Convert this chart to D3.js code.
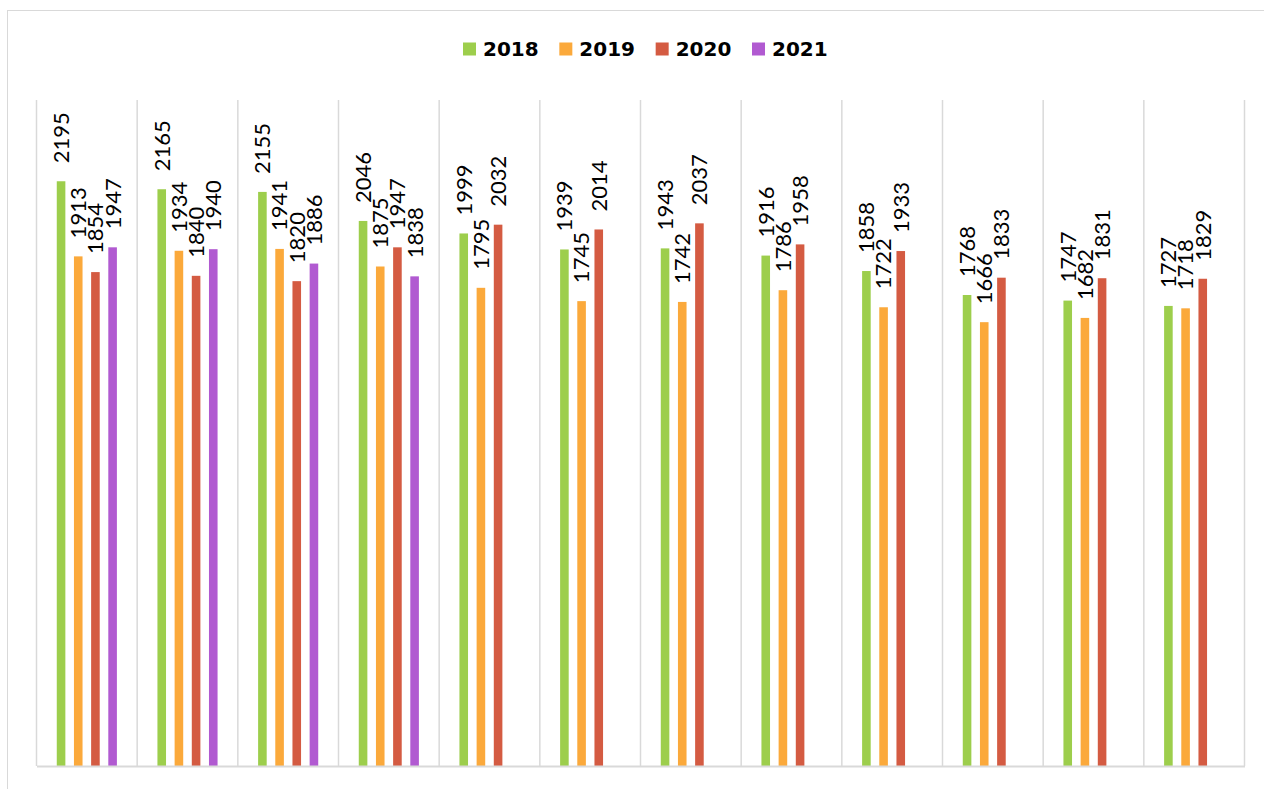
<!DOCTYPE html>
<html><head><meta charset="utf-8">
<script src="https://cdn.jsdelivr.net/npm/d3@7"></script>
<style>html,body{margin:0;padding:0;background:#fff;}svg{display:block;}</style>
</head><body>
<svg id="chart" width="1264" height="789"></svg>
<script>
const categories = ["Jan","Feb","Mar","Apr","May","Jun","Jul","Aug","Sep","Oct","Nov","Dec"];
const seriesNames = ["2018","2019","2020","2021"];
const values2018 = [2195,2165,2155,2046,1999,1939,1943,1916,1858,1768,1747,1727];
const values2019 = [1913,1934,1941,1875,1795,1745,1742,1786,1722,1666,1682,1718];
const values2020 = [1854,1840,1820,1947,2032,2014,2037,1958,1933,1833,1831,1829];
const values2021 = [1947,1940,1886,1838,null,null,null,null,null,null,null,null];
const seriesColors = ["#9dce4c","#fba93b","#d45b42","#b15ad1"];

(function(){
const seriesValues = [values2018, values2019, values2020, values2021];
const svg = d3.select("#chart");

// outer chart frame
svg.append("rect").attr("x",7.5).attr("y",10.5).attr("width",1400).attr("height",900)
  .attr("fill","none").attr("stroke","#d9d9d9").attr("stroke-width",1);

const pLeft = 36.5, pRight = 1244.5, pTop = 100, pBottom = 766;
const x0 = d3.scaleBand().domain(categories).range([pLeft,pRight]).padding(0);
const x1 = d3.scaleBand().domain(seriesNames).range([0,x0.bandwidth()]).paddingInner(0.5).paddingOuter(1.18);
const y = d3.scaleLinear().domain([0,2500]).range([pBottom,pTop]);

// vertical gridlines at category boundaries
const bounds = categories.map(c=>x0(c)).concat([pRight]);
svg.append("g").selectAll("line").data(bounds).join("line")
  .attr("x1",d=>d).attr("x2",d=>d).attr("y1",pTop).attr("y2",pBottom)
  .attr("stroke","#d9d9d9").attr("stroke-width",1.5);

// bars
const data = [];
categories.forEach((c,i)=>{
  seriesNames.forEach((s,j)=>{
    const v = seriesValues[j][i];
    if (v!=null) data.push({c,s,v,color:seriesColors[j]});
  });
});
svg.append("g").selectAll("rect").data(data).join("rect")
  .attr("x",d=>x0(d.c)+x1(d.s)).attr("width",x1.bandwidth())
  .attr("y",d=>y(d.v)).attr("height",d=>y(0)-y(d.v))
  .attr("fill",d=>d.color);

// x axis baseline (no labels)
const xAxis = d3.axisBottom(x0).tickSize(0).tickFormat("");
const ax = svg.append("g").attr("transform",`translate(0,${pBottom})`).call(xAxis);
ax.select(".domain").attr("stroke","#d9d9d9").attr("stroke-width",2);

// data labels
svg.append("g").selectAll("text").data(data).join("text")
  .attr("transform",d=>`translate(${x0(d.c)+x1(d.s)+x1.bandwidth()/2},${y(d.v)-18}) rotate(-90)`)
  .attr("dy","0.36em")
  .attr("font-family","Lato, 'DejaVu Sans', sans-serif").attr("font-size",22)
  .attr("fill","#000").text(d=>d.v);

// legend
const legend = svg.append("g");
const lx = d3.scalePoint().domain(seriesNames).range([463,752]);
const items = legend.selectAll("g").data(seriesNames).join("g")
  .attr("transform",d=>`translate(${lx(d)},0)`);
items.append("rect").attr("x",0).attr("y",42.5).attr("width",13).attr("height",13)
  .attr("fill",(d,i)=>seriesColors[i]);
items.append("text").attr("x",20).attr("y",55.5)
  .attr("font-family","'DejaVu Sans', sans-serif").attr("font-weight","bold").attr("font-size",20)
  .attr("fill","#000").text(d=>d);
})();
</script>
</body></html>
